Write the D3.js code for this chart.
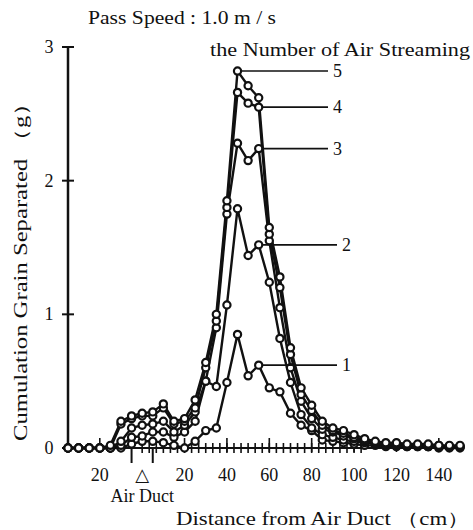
<!DOCTYPE html>
<html>
<head>
<meta charset="utf-8">
<script src="https://cdn.jsdelivr.net/npm/d3@7"></script>
<style>
  body { margin: 0; background: #fff; }
  text { font-family: "Liberation Serif", "DejaVu Serif", serif; fill: #111; }
</style>
</head>
<body>
<div id="chart"></div>
<script>
// distance from the air duct (cm), one point every 5 cm
const distances = d3.range(-35, 151, 5);

// cumulated grain separated (g) per number of air streams
const series1 = [0,0,0,0,0, 0,0.03,0.05,0.05,0.04, 0.02,0,0.05,0.13,0.15, 0.49,0.85,0.54,0.62,0.45,
  0.42,0.26,0.17,0.13,0.06, 0.05,0.04,0.03,0.02,0.02, 0.01,0.01,0.01,0.01,0.01, 0,0,0];
const series2 = [0,0,0,0,0, 0.02,0.08,0.09,0.12,0.12, 0.08,0.12,0.2,0.5,0.46, 1.07,1.79,1.44,1.52,1.24,
  0.82,0.49,0.25,0.15,0.1, 0.08,0.06,0.05,0.04,0.03, 0.02,0.02,0.01,0.01,0.01, 0.01,0.01,0.01];
const series3 = [0,0,0,0,0, 0.05,0.15,0.17,0.18,0.2, 0.12,0.17,0.27,0.5,0.9, 1.75,2.28,2.15,2.24,1.55,
  1.05,0.6,0.35,0.22,0.14, 0.12,0.09,0.07,0.05,0.04, 0.03,0.02,0.02,0.02,0.01, 0.01,0.01,0.01];
const series4 = [0,0,0,0,0, 0.18,0.22,0.24,0.24,0.3, 0.18,0.2,0.3,0.6,0.95, 1.8,2.66,2.58,2.55,1.6,
  1.2,0.7,0.4,0.28,0.17, 0.13,0.11,0.08,0.06,0.04, 0.03,0.03,0.02,0.02,0.02, 0.02,0.01,0.01];
const series5 = [0,0,0,0,0.02, 0.2,0.24,0.26,0.27,0.33, 0.2,0.22,0.36,0.64,1.0, 1.85,2.82,2.71,2.62,1.65,
  1.28,0.75,0.45,0.32,0.2, 0.15,0.13,0.1,0.07,0.05, 0.04,0.04,0.03,0.03,0.03, 0.02,0.02,0.02];

const seriesNames = ['1', '2', '3', '4', '5'];
const seriesValues = [series1, series2, series3, series4, series5];
// distance where each label leader line starts
const labelAnchors = [55, 55, 55, 55, 45];

const yTicks = [0, 1, 2, 3];
const xTickValues = [-20, 20, 40, 60, 80, 100, 120, 140];
const xTickLabels = ['20', '20', '40', '60', '80', '100', '120', '140'];
const ductEdges = [-5, 5];

const width = 473, height = 530;

const svg = d3.select('#chart').append('svg')
  .attr('width', width)
  .attr('height', height);

const x = d3.scaleLinear().domain([-35, 150]).range([68, 460]);
const y = d3.scaleLinear().domain([0, 3]).range([448, 47]);

// titles (glyphs stretched a little, like the wide Mincho latin of the original)
const addText = (tx, ty, str, len, transform) => {
  const t = svg.append('text')
    .attr('font-size', 18)
    .attr('textLength', len).attr('lengthAdjust', 'spacingAndGlyphs')
    .text(str);
  if (transform) t.attr('transform', transform);
  else t.attr('x', tx).attr('y', ty);
  return t;
};

addText(88, 24, 'Pass Speed : 1.0 m / s', 188);
addText(210, 56, 'the Number of Air Streaming', 260);
addText(0, 0, 'Cumulation Grain Separated （g）', 350, 'translate(27,441) rotate(-90)');
addText(176, 525, 'Distance from Air Duct （cm）', 294);

// y axis
svg.append('line')
  .attr('x1', x(-35)).attr('x2', x(-35))
  .attr('y1', y(3)).attr('y2', y(0))
  .attr('stroke', '#111').attr('stroke-width', 2.5);

svg.append('g').selectAll('line')
  .data(yTicks)
  .join('line')
  .attr('x1', x(-35) - 6).attr('x2', x(-35) + 6)
  .attr('y1', d => y(d)).attr('y2', d => y(d))
  .attr('stroke', '#111').attr('stroke-width', 2);

svg.append('g').selectAll('text')
  .data(yTicks)
  .join('text')
  .attr('x', x(-35) - 19).attr('y', d => y(d) + 6)
  .attr('text-anchor', 'middle')
  .attr('font-size', 18)
  .text(d => d);

// x axis
svg.append('line')
  .attr('x1', x(-35)).attr('x2', x(150))
  .attr('y1', y(0)).attr('y2', y(0))
  .attr('stroke', '#111').attr('stroke-width', 2);

svg.append('g').selectAll('line')
  .data(d3.range(0, 106, 10 / 3))
  .join('line')
  .attr('x1', d => x(d)).attr('x2', d => x(d))
  .attr('y1', y(0) - 5).attr('y2', y(0) + 5)
  .attr('stroke', '#111').attr('stroke-width', 1.6);

svg.append('g').selectAll('line')
  .data(xTickValues)
  .join('line')
  .attr('x1', d => x(d)).attr('x2', d => x(d))
  .attr('y1', y(0) - 10).attr('y2', y(0) + 4)
  .attr('stroke', '#111').attr('stroke-width', 1.6);

svg.append('g').selectAll('line')
  .data(ductEdges)
  .join('line')
  .attr('x1', d => x(d)).attr('x2', d => x(d))
  .attr('y1', y(0)).attr('y2', y(0) + 15)
  .attr('stroke', '#111').attr('stroke-width', 2);

svg.append('g').selectAll('text')
  .data(xTickValues)
  .join('text')
  .attr('x', d => x(d)).attr('y', 481)
  .attr('text-anchor', 'middle')
  .attr('font-size', 18)
  .text((d, i) => xTickLabels[i]);

svg.append('text')
  .attr('x', x(0)).attr('y', 481)
  .attr('text-anchor', 'middle')
  .attr('font-size', 18)
  .text('△');

svg.append('text')
  .attr('x', x(0)).attr('y', 502)
  .attr('text-anchor', 'middle')
  .attr('font-size', 18)
  .text('Air Duct');

// curves
const line = d3.line()
  .x((d, i) => x(distances[i]))
  .y(d => y(d));

const curves = svg.append('g');
seriesValues.forEach(values => {
  curves.append('path')
    .datum(values)
    .attr('d', line)
    .attr('fill', 'none')
    .attr('stroke', '#111')
    .attr('stroke-width', 2.4);
});

seriesValues.forEach(values => {
  curves.append('g').selectAll('circle')
    .data(values)
    .join('circle')
    .attr('cx', (d, i) => x(distances[i]))
    .attr('cy', d => y(d))
    .attr('r', 3.6)
    .attr('fill', '#fff')
    .attr('stroke', '#111')
    .attr('stroke-width', 2.2);
});

// series labels with leader lines
const labelEnds = [337, 337, 328, 328, 328];
seriesNames.forEach((name, k) => {
  const idx = distances.indexOf(labelAnchors[k]);
  const py = y(seriesValues[k][idx]);
  svg.append('line')
    .attr('x1', x(labelAnchors[k]) + 3).attr('x2', labelEnds[k])
    .attr('y1', py).attr('y2', py)
    .attr('stroke', '#111').attr('stroke-width', 1.6);
  svg.append('text')
    .attr('x', labelEnds[k] + 5).attr('y', py + 6)
    .attr('font-size', 18)
    .text(name);
});
</script>
</body>
</html>
